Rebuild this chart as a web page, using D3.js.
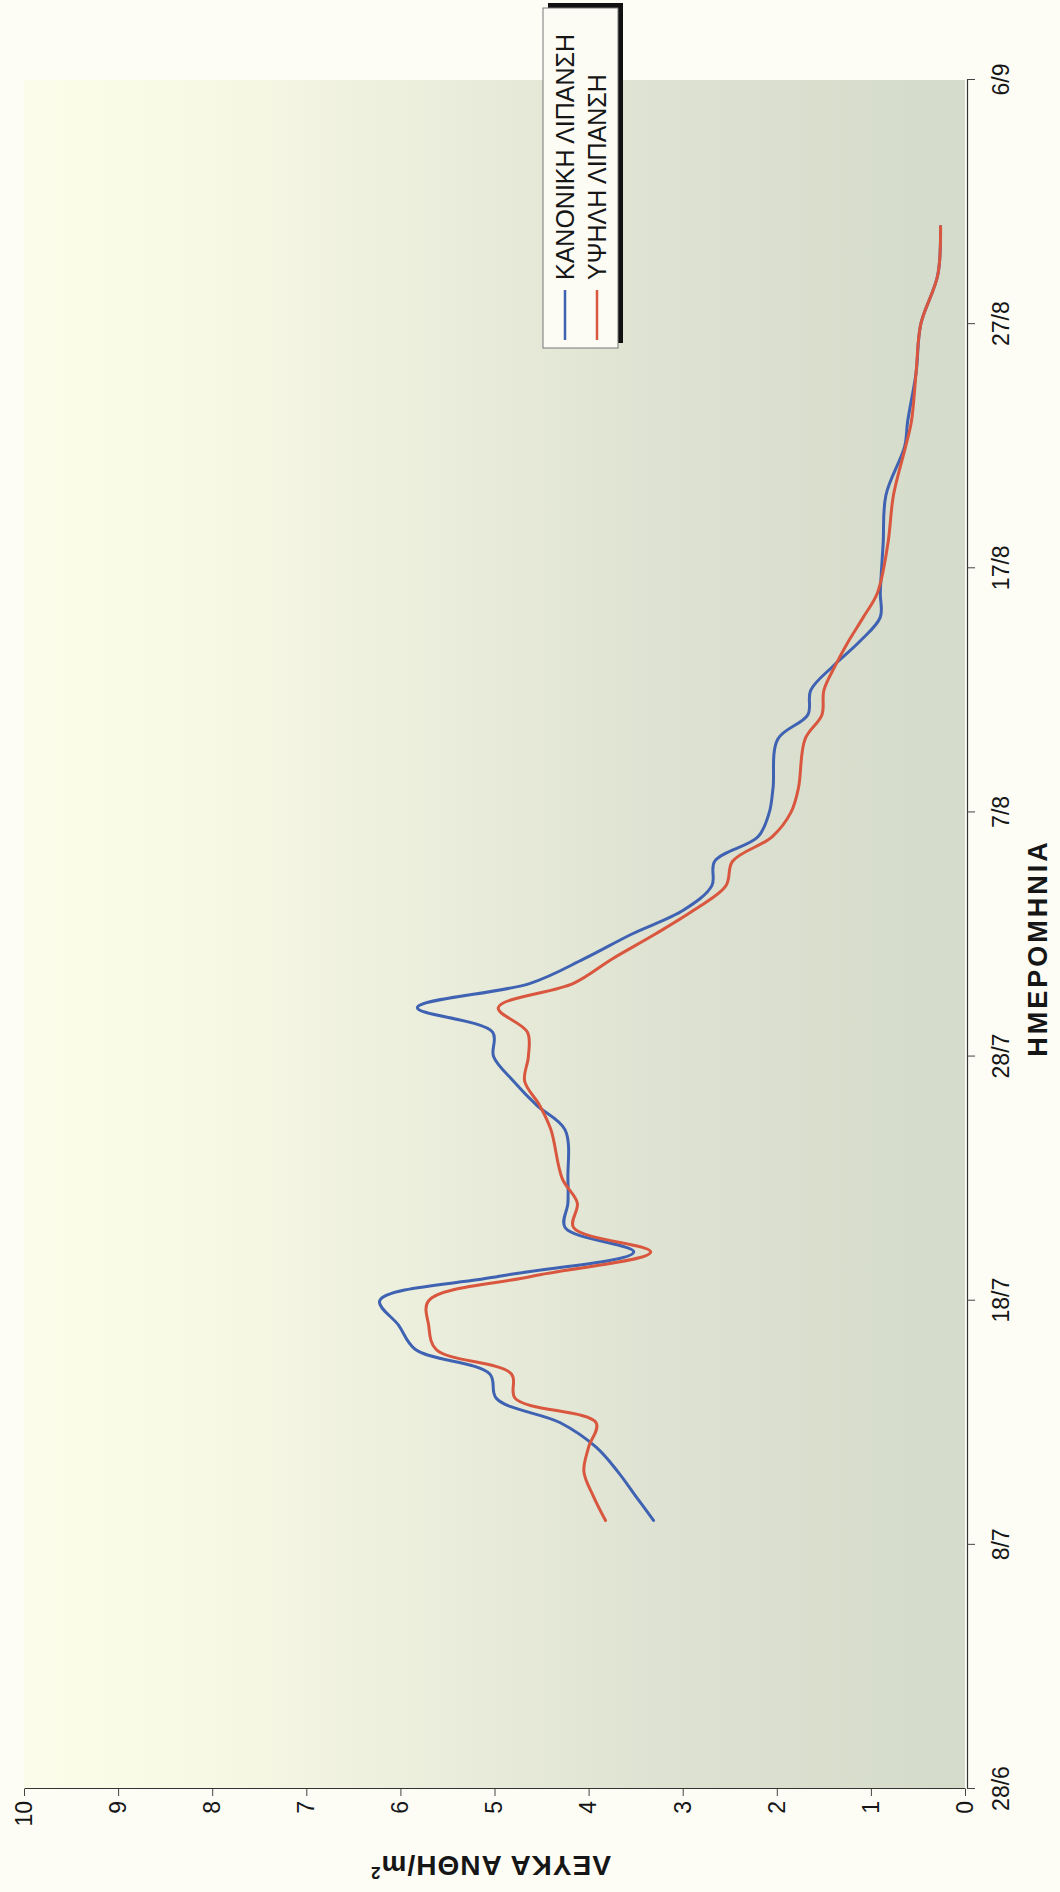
<!DOCTYPE html>
<html>
<head>
<meta charset="utf-8">
<script src="https://cdn.jsdelivr.net/npm/d3@7"></script>
<style>
  html, body { margin: 0; padding: 0; background: #fdfdf6; }
  svg { display: block; }
  text { font-family: "Liberation Sans", Arial, sans-serif; fill: #161616; }
</style>
</head>
<body>
<svg id="chart" width="1060" height="1892"></svg>
<script>
// ---- data ----
const dates = ["9/7","10/7","11/7","12/7","13/7","14/7","15/7","16/7","17/7","18/7","19/7","20/7",
  "21/7","22/7","23/7","25/7","26/7","27/7","28/7","29/7","30/7","31/7","1/8","2/8","3/8","4/8",
  "5/8","6/8","7/8","8/8","10/8","11/8","12/8","13/8","14/8","15/8","16/8","18/8","20/8","22/8",
  "23/8","25/8","27/8","29/8","31/8"];
const normalLub = [3.31,3.50,3.69,3.92,4.30,4.98,5.05,5.84,6.02,6.22,4.95,3.52,4.25,4.22,4.22,4.25,
  4.55,4.80,5.01,5.02,5.82,4.62,4.05,3.55,2.99,2.69,2.66,2.20,2.08,2.04,1.99,1.67,1.64,1.40,1.12,
  0.90,0.90,0.87,0.84,0.64,0.61,0.52,0.47,0.29,0.26];
const highLub = [3.82,3.95,4.05,4.00,3.92,4.78,4.82,5.62,5.70,5.70,4.60,3.34,4.16,4.12,4.28,4.40,
  4.52,4.68,4.64,4.65,4.96,4.16,3.75,3.30,2.88,2.54,2.47,2.05,1.85,1.77,1.70,1.52,1.50,1.38,1.24,
  1.08,0.93,0.82,0.76,0.63,0.57,0.52,0.47,0.29,0.26];
const seriesNames = ["ΚΑΝΟΝΙΚΗ ΛΙΠΑΝΣΗ", "ΥΨΗΛΗ ΛΙΠΑΝΣΗ"];
const seriesColors = ["#3f63b2", "#d9563f"];
const dateTicks = ["28/6","8/7","18/7","28/7","7/8","17/8","27/8","6/9"];
const valueTicks = [0,1,2,3,4,5,6,7,8,9,10];
const xTitle = "ΗΜΕΡΟΜΗΝΙΑ";
const yTitle = "ΛΕΥΚΑ ΑΝΘΗ/m";

// ---- chart (drawn in a frame rotated -90deg) ----
const W = 1060, H = 1892;
const parse = d3.timeParse("%d/%m");
const svg = d3.select("#chart");
svg.append("rect").attr("width", W).attr("height", H).attr("fill", "#fdfdf6");

const defs = svg.append("defs");
const grad = defs.append("linearGradient").attr("id", "bg")
  .attr("x1", 0).attr("y1", 0).attr("x2", 0).attr("y2", 1);
[[0, "#fbfce9"], [0.2, "#f7f9e5"], [0.45, "#eaeddb"], [0.7, "#dde1d1"], [1, "#d5dbca"]]
  .forEach(([o, c]) => grad.append("stop").attr("offset", o).attr("stop-color", c));

// frame: u (dates) -> screen up, v (values) -> screen right
const g = svg.append("g").attr("transform", `translate(0,${H}) rotate(-90)`);

const x = d3.scaleTime().domain([parse(dateTicks[0]), parse(dateTicks[dateTicks.length - 1])]).range([103, 1812]);
const y = d3.scaleLinear().domain([0, 10]).range([965, 24]);

g.append("rect")
  .attr("x", x.range()[0]).attr("y", y(10))
  .attr("width", x.range()[1] - x.range()[0]).attr("height", y(0) - y(10))
  .attr("fill", "url(#bg)");

// value axis
const yAxis = g.append("g").attr("transform", `translate(${x.range()[0]},0)`)
  .call(d3.axisLeft(y).tickValues(valueTicks).tickFormat(d3.format("d")).tickSize(7).tickSizeOuter(0).tickPadding(5));
yAxis.selectAll("text").attr("font-size", 23).style("font-family", "Liberation Sans, Arial, sans-serif").attr("fill", "#161616");
yAxis.selectAll("line").attr("stroke", "#444");
yAxis.select(".domain").attr("stroke", "#333").attr("stroke-width", 1.2);

// date axis
const xAxis = g.append("g").attr("transform", `translate(0,${y(0) + 2})`)
  .call(d3.axisBottom(x).tickValues(dateTicks.map(parse)).tickFormat(d3.timeFormat("%-d/%-m"))
    .tickSize(8).tickSizeOuter(0).tickPadding(18));
xAxis.selectAll("text").attr("font-size", 23).style("font-family", "Liberation Sans, Arial, sans-serif").attr("fill", "#161616");
xAxis.selectAll("line").attr("stroke", "#444");
xAxis.select(".domain").attr("stroke", "#333").attr("stroke-width", 1.2);

// lines
const line = d3.line()
  .x(d => x(d.date)).y(d => y(d.v))
  .curve(d3.curveCatmullRom.alpha(0.5));
[normalLub, highLub].forEach((vals, i) => {
  const data = dates.map((dd, k) => ({ date: parse(dd), v: vals[k] }));
  g.append("path").datum(data)
    .attr("fill", "none").attr("stroke", seriesColors[i])
    .attr("stroke-width", 3).attr("stroke-linejoin", "round").attr("stroke-linecap", "round")
    .attr("d", line);
});

// axis titles
g.append("text")
  .attr("transform", `translate(36,${(y(0) + y(10)) / 2 - 4}) rotate(-90)`)
  .attr("text-anchor", "middle").attr("font-size", 28).attr("font-weight", "bold")
  .attr("letter-spacing", 1)
  .text(yTitle)
  .append("tspan").attr("dy", -11).attr("font-size", 17).text("2");

g.append("text")
  .attr("x", 944).attr("y", 1047)
  .attr("text-anchor", "middle").attr("font-size", 27).attr("font-weight", "bold")
  .attr("letter-spacing", 3)
  .text(xTitle);

// legend
const lg = g.append("g");
lg.append("rect").attr("x", 1549).attr("y", 548).attr("width", 340).attr("height", 75).attr("fill", "#111");
lg.append("rect").attr("x", 1544).attr("y", 543).attr("width", 340).attr("height", 75)
  .attr("fill", "#fcfcf5").attr("stroke", "#777").attr("stroke-width", 1);
seriesNames.forEach((name, i) => {
  const vy = 565 + i * 32;
  lg.append("line").attr("x1", 1552).attr("x2", 1602).attr("y1", vy).attr("y2", vy)
    .attr("stroke", seriesColors[i]).attr("stroke-width", 2.5);
  lg.append("text").attr("x", 1612).attr("y", vy).attr("dy", "0.36em")
    .attr("font-size", 25).text(name);
});
</script>
</body>
</html>
